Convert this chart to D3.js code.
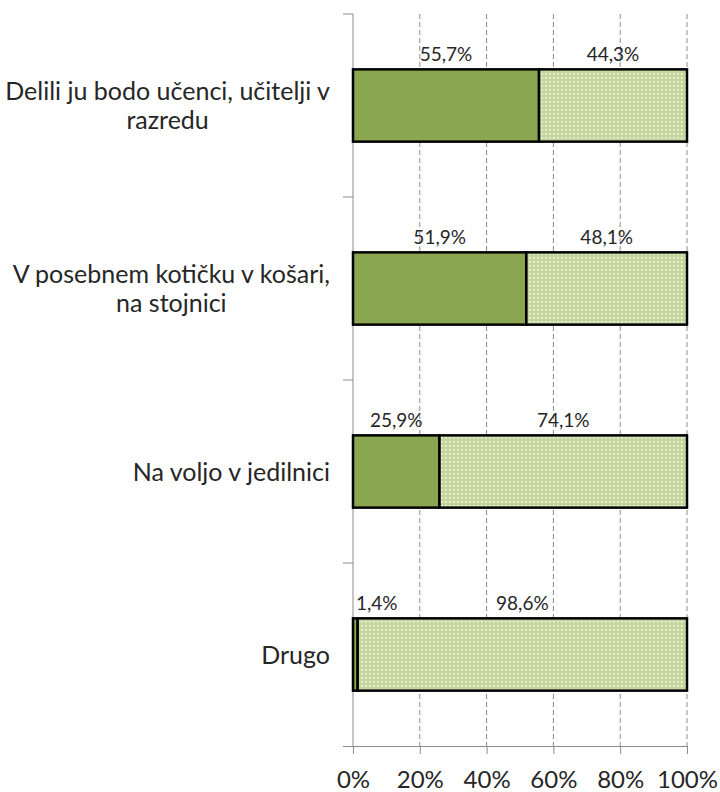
<!DOCTYPE html>
<meta charset="utf-8">
<style>
 body { margin: 0; background: #fff; }
 svg { display: block; }
 text { font-family: Lato, "Open Sans", sans-serif; fill: #262626; }
 .grid line { stroke: #8c8c8c; stroke-dasharray: 5,3; stroke-width: 1; }
 .axis path, .axis line { stroke: #8c8c8c; stroke-width: 1; }
</style>
<svg width="720" height="792"></svg>
<script src="https://d3js.org/d3.v7.min.js"></script>
<script>

 var categories = [
   ["Delili ju bodo učenci, učitelji v", "razredu"],
   ["V posebnem kotičku v košari,", "na stojnici"],
   ["Na voljo v jedilnici"],
   ["Drugo"]
 ];
 var firstValues = [55.7, 51.9, 25.9, 1.4];
 var secondValues = [44.3, 48.1, 74.1, 98.6];
 var xTicks = [0, 20, 40, 60, 80, 100];

 var svg = d3.select("svg"),
     plotLeft = 353, plotRight = 687, plotTop = 14, plotBottom = 746;

 var x = d3.scaleLinear().domain([0, 100]).range([plotLeft, plotRight]);
 var y = d3.scaleBand().domain(d3.range(categories.length)).range([plotTop, plotBottom])
           .paddingInner(0.605).paddingOuter(0.3025);

 // dotted fill for the second series
 var pat = svg.append("defs").append("pattern")
              .attr("id", "dots")
              .attr("patternUnits", "userSpaceOnUse")
              .attr("width", 4).attr("height", 4);
 pat.append("rect").attr("width", 4).attr("height", 4).attr("fill", "#c3d69b");
 pat.append("rect").attr("x", 1).attr("y", 1).attr("width", 1.6).attr("height", 1.6).attr("fill", "#f4f8ec");

 // gridlines
 svg.append("g").attr("class", "grid")
    .selectAll("line")
    .data(xTicks.slice(1))
    .enter().append("line")
    .attr("x1", function(d) { return x(d); })
    .attr("x2", function(d) { return x(d); })
    .attr("y1", plotTop).attr("y2", plotBottom);

 // x axis
 var xAxis = svg.append("g").attr("class", "axis")
    .attr("transform", "translate(0," + plotBottom + ")")
    .call(d3.axisBottom(x).tickValues(xTicks).tickSize(8).tickSizeOuter(0)
            .tickFormat(function(d) { return d + "%"; }));
 xAxis.select(".domain").attr("d", "M" + (plotLeft - 10) + ",0.5H" + plotRight);
 xAxis.selectAll("text").attr("y", 42).attr("dy", 0).style("font-size", "24px").style("fill", "#262626");

 // y axis line with category boundary ticks
 var yAxis = svg.append("g").attr("class", "axis");
 yAxis.append("line").attr("x1", plotLeft).attr("x2", plotLeft).attr("y1", plotTop).attr("y2", plotBottom);
 var step = (plotBottom - plotTop) / categories.length;
 yAxis.selectAll("line.tick")
    .data(d3.range(categories.length))
    .enter().append("line")
    .attr("class", "tick")
    .attr("x1", plotLeft - 10).attr("x2", plotLeft)
    .attr("y1", function(d) { return plotTop + d * step; })
    .attr("y2", function(d) { return plotTop + d * step; });

 // category labels: block right-aligned, lines centred inside it
 var labelRight = 330;
 categories.forEach(function(lines, i) {
   var g = svg.append("g");
   var lh = 29;
   var cy = y(i) + y.bandwidth() / 2;
   var texts = g.selectAll("text").data(lines).enter().append("text")
     .style("font-size", "25px")
     .attr("text-anchor", "middle")
     .attr("y", function(d, j) { return cy - (lines.length - 1) * lh / 2 + j * lh + 9; })
     .text(function(d) { return d; });
   var w = d3.max(texts.nodes(), function(n) { return n.getComputedTextLength(); });
   texts.attr("x", labelRight - w / 2);
 });

 // bars
 var bars = svg.append("g");
 firstValues.forEach(function(v, i) {
   bars.append("rect")
     .attr("x", x(0)).attr("y", y(i))
     .attr("width", x(v) - x(0)).attr("height", y.bandwidth())
     .attr("fill", "#8aa650").attr("stroke", "#000").attr("stroke-width", 2.5);
   bars.append("rect")
     .attr("x", x(v)).attr("y", y(i))
     .attr("width", x(v + secondValues[i]) - x(v)).attr("height", y.bandwidth())
     .attr("fill", "url(#dots)").attr("stroke", "#000").attr("stroke-width", 2.5);
 });

 // value labels above segments
 function fmt(v) { return v.toFixed(1).replace(".", ",") + "%"; }
 var lab = svg.append("g");
 firstValues.forEach(function(v, i) {
   var segs = [[0, v], [v, v + secondValues[i]]];
   segs.forEach(function(s) {
     var val = s[1] - s[0];
     var t = lab.append("text")
       .style("font-size", "19px")
       .attr("text-anchor", "middle")
       .attr("y", y(i) - 8)
       .text(fmt(val));
     var w = t.node().getComputedTextLength();
     var cx = (x(s[0]) + x(s[1])) / 2;
     cx = Math.max(cx, x(s[0]) + 3 + w / 2);
     t.attr("x", cx);
   });
 });
</script>
